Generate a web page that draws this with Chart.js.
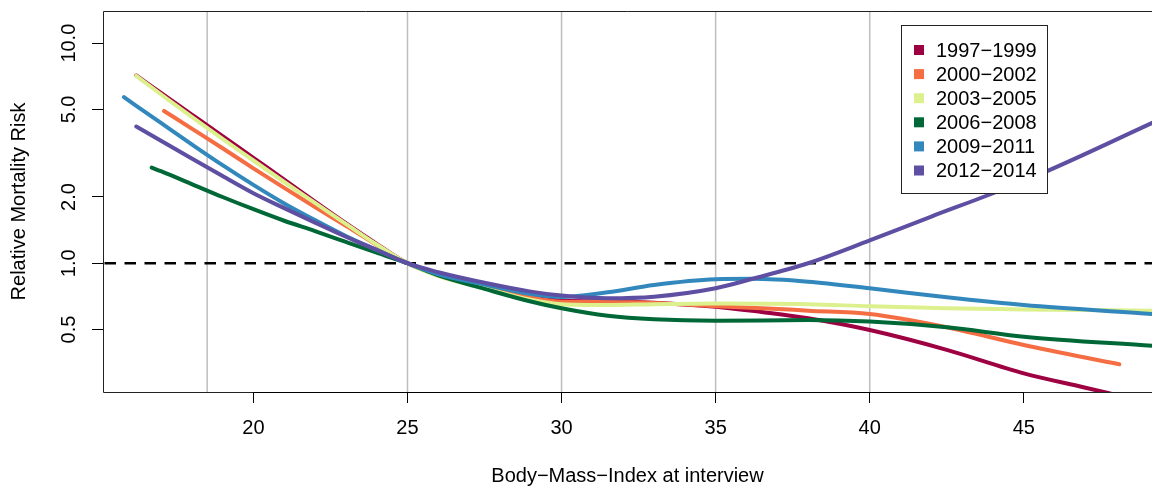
<!DOCTYPE html>
<html>
<head>
<meta charset="utf-8">
<script src="https://cdn.jsdelivr.net/npm/chart.js@4.4.1/dist/chart.umd.min.js"></script>
<style>
html, body { margin: 0; padding: 0; background: #fff; }
canvas { display: block; }
</style>
</head>
<body>
<canvas id="risk" width="1152" height="491"></canvas>
<script>
// survey periods and their colours
const periods = ["1997\u22121999", "2000\u22122002", "2003\u22122005", "2006\u22122008", "2009\u22122011", "2012\u22122014"];
const colors = ["#9e0142", "#f46d43", "#dcf18d", "#006837", "#3288bd", "#5e4fa2"];

// BMI values and relative risk for each period
const bmi1997 = [16.2, 17, 18, 19, 20, 21, 22, 23, 24, 25, 26, 27.5, 29, 30, 31.5, 33, 35, 36.5, 38, 40, 42.5, 45, 47, 48.1];
const risk1997 = [7.13, 5.94, 4.74, 3.78, 3.01, 2.4, 1.905, 1.52, 1.225, 1.0, 0.885, 0.785, 0.705, 0.676, 0.672, 0.662, 0.635, 0.6, 0.562, 0.497, 0.404, 0.316, 0.272, 0.25];

const bmi2000 = [17.1, 18, 19, 20, 21, 22, 23, 24, 25, 26, 27.5, 29, 30, 31.5, 33, 35, 36.5, 38, 40, 42.5, 45, 48.1];
const risk2000 = [4.92, 4.09, 3.33, 2.7, 2.2, 1.8, 1.48, 1.21, 1.0, 0.885, 0.785, 0.7, 0.668, 0.666, 0.66, 0.638, 0.625, 0.609, 0.588, 0.512, 0.425, 0.3475];

const bmi2003 = [16.2, 17, 18, 19, 20, 21, 22, 23, 24, 25, 26, 27.5, 29, 30, 31.5, 33, 35, 38, 40, 42.5, 45, 49.2];
const risk2003 = [7.1, 5.86, 4.62, 3.67, 2.93, 2.34, 1.88, 1.51, 1.216, 1.0, 0.875, 0.77, 0.682, 0.651, 0.646, 0.652, 0.656, 0.652, 0.637, 0.624, 0.617, 0.609];

const bmi2006 = [16.7, 17, 18, 19, 20, 21, 22, 23, 24, 25, 26, 27.5, 29, 30, 31.5, 33, 35, 38, 40, 42.5, 45, 49.2];
const risk2006 = [2.72, 2.62, 2.29, 2.0, 1.76, 1.56, 1.4, 1.25, 1.117, 1.0, 0.88, 0.765, 0.67, 0.624, 0.577, 0.556, 0.548, 0.552, 0.543, 0.512, 0.464, 0.421];

const bmi2009 = [15.8, 17, 18, 19, 20, 21, 22, 23, 24, 25, 26, 27.5, 29, 30, 31.5, 33, 35, 36.2, 38, 40, 42.5, 45, 49.2];
const risk2009 = [5.68, 4.34, 3.47, 2.79, 2.27, 1.87, 1.57, 1.33, 1.15, 1.0, 0.89, 0.8, 0.725, 0.703, 0.738, 0.797, 0.846, 0.85, 0.825, 0.77, 0.7, 0.646, 0.588];

const bmi2012 = [16.2, 17, 18, 19, 20, 21, 22, 23, 24, 25, 26, 27.5, 29, 30, 31.5, 33, 35, 36.2, 38, 40, 42, 44, 45.7, 49.2];
const risk2012 = [4.18, 3.6, 2.99, 2.49, 2.08, 1.78, 1.53, 1.32, 1.15, 1.0, 0.91, 0.815, 0.743, 0.713, 0.694, 0.705, 0.77, 0.85, 1.0, 1.27, 1.63, 2.08, 2.6, 4.36];

const bmiSeries = [bmi1997, bmi2000, bmi2003, bmi2006, bmi2009, bmi2012];
const riskSeries = [risk1997, risk2000, risk2003, risk2006, risk2009, risk2012];

// axes
const xTicks = [20, 25, 30, 35, 40, 45];
const yTicks = [0.5, 1, 2, 5, 10];
const yTickLabels = ["0.5", "1.0", "2.0", "5.0", "10.0"];
const bmiCutoffs = [18.5, 25, 30, 35, 40];
const refRisk = 1;

const FONT = "'Liberation Sans', Arial, Helvetica, sans-serif";

const datasets = periods.map((p, i) => ({
    label: p,
    data: bmiSeries[i].map((x, j) => ({ x: x, y: riskSeries[i][j] })),
    borderColor: colors[i],
    backgroundColor: colors[i],
    borderWidth: 4,
    borderCapStyle: "round",
    borderJoinStyle: "round",
    pointRadius: 0,
    fill: false,
    cubicInterpolationMode: "monotone",
    clip: 0,
    order: periods.length - 1 - i,
}));

const decorations = {
    id: "decorations",
    beforeDatasetsDraw(chart) {
        const { ctx, chartArea: a, scales: { x, y } } = chart;
        ctx.save();
        ctx.strokeStyle = "#bebebe";
        ctx.lineWidth = 1.5;
        bmiCutoffs.forEach((v) => {
            const px = x.getPixelForValue(v);
            ctx.beginPath();
            ctx.moveTo(px, a.top);
            ctx.lineTo(px, a.bottom);
            ctx.stroke();
        });
        const py = y.getPixelForValue(refRisk);
        ctx.strokeStyle = "#000";
        ctx.lineWidth = 2.5;
        ctx.setLineDash([11.5, 8.5]);
        ctx.beginPath();
        ctx.moveTo(a.left + 1.5, py);
        ctx.lineTo(a.right, py);
        ctx.stroke();
        ctx.restore();
    },
    afterDraw(chart) {
        const { ctx, chartArea: a, scales: { x, y } } = chart;
        ctx.save();
        // box (right side is off the picture)
        ctx.strokeStyle = "#222";
        ctx.lineWidth = 1;
        ctx.beginPath();
        ctx.moveTo(a.right, a.top + 0.5);
        ctx.lineTo(a.left + 0.5, a.top + 0.5);
        ctx.lineTo(a.left + 0.5, a.bottom + 0.5);
        ctx.lineTo(a.right, a.bottom + 0.5);
        ctx.stroke();
        ctx.strokeStyle = "#000";
        ctx.beginPath();
        ctx.moveTo(x.getPixelForValue(xTicks[0]), a.bottom + 0.5);
        ctx.lineTo(x.getPixelForValue(xTicks[xTicks.length - 1]), a.bottom + 0.5);
        ctx.stroke();

        // rotated y tick labels like base R
        ctx.fillStyle = "#000";
        ctx.font = "20px " + FONT;
        ctx.textAlign = "center";
        ctx.textBaseline = "alphabetic";
        yTicks.forEach((v, i) => {
            ctx.save();
            ctx.translate(75, y.getPixelForValue(v));
            ctx.rotate(-Math.PI / 2);
            ctx.fillText(yTickLabels[i], 0, 0);
            ctx.restore();
        });

        // legend
        const lx = 901, ly = 25, lw = 146, lh = 168;
        ctx.fillStyle = "#fff";
        ctx.fillRect(lx, ly, lw, lh);
        ctx.strokeStyle = "#222";
        ctx.strokeRect(lx + 0.5, ly + 0.5, lw, lh);
        ctx.textAlign = "left";
        ctx.textBaseline = "middle";
        chart.data.datasets.forEach((ds, i) => {
            const cy = 50 + i * 24.1;
            ctx.fillStyle = ds.borderColor;
            ctx.fillRect(914, cy - 5, 10, 10);
            ctx.fillStyle = "#000";
            ctx.fillText(ds.label, 936, cy + 1);
        });
        ctx.restore();
    },
};

new Chart(document.getElementById("risk"), {
    type: "line",
    data: { datasets: datasets },
    options: {
        responsive: false,
        animation: false,
        layout: { padding: { top: 11, left: 0, right: 0, bottom: 0 } },
        plugins: { legend: { display: false }, tooltip: { enabled: false } },
        scales: {
            x: {
                type: "linear",
                min: 15.12,
                max: 49.16,
                afterBuildTicks: (s) => { s.ticks = xTicks.map((v) => ({ value: v })); },
                afterFit: (s) => { s.height = 99; },
                border: { display: false },
                grid: { drawOnChartArea: false, drawTicks: true, tickLength: 11, color: "#000" },
                ticks: { color: "#000", font: { family: FONT, size: 20 }, padding: 13, maxRotation: 0 },
                title: {
                    display: true,
                    text: "Body\u2212Mass\u2212Index at interview",
                    color: "#000",
                    font: { family: FONT, size: 20 },
                    padding: { top: 0, bottom: 3 },
                },
            },
            y: {
                type: "logarithmic",
                min: 0.26,
                max: 14.0,
                afterBuildTicks: (s) => { s.ticks = yTicks.map((v) => ({ value: v })); },
                afterFit: (s) => { s.width = 103; },
                border: { display: false },
                grid: { drawOnChartArea: false, drawTicks: true, tickLength: 11, color: "#000" },
                ticks: { display: false },
                title: {
                    display: true,
                    text: "Relative Mortality Risk",
                    color: "#000",
                    font: { family: FONT, size: 20 },
                    padding: { top: 7, bottom: 0 },
                },
            },
        },
    },
    plugins: [decorations],
});
</script>
</body>
</html>
